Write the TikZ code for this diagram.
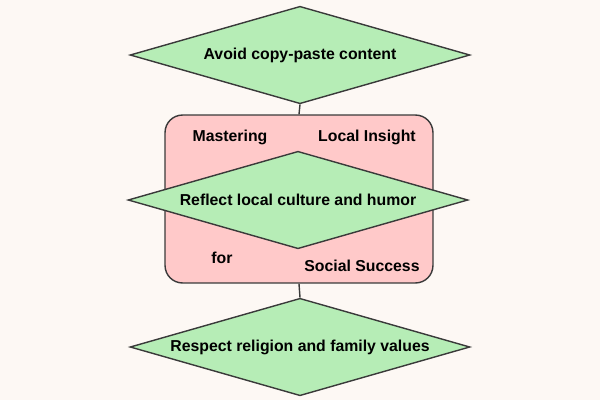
\documentclass[tikz,border=0pt]{standalone}
\usepackage{fontspec}
\setmainfont{Liberation Sans}
\usetikzlibrary{shapes.geometric}
\definecolor{bgcream}{HTML}{FDF8F4}
\definecolor{leafgreen}{HTML}{B6EDB6}
\definecolor{rosepink}{HTML}{FFC9C9}
\definecolor{edgegray}{HTML}{3A3A3A}
\begin{document}
\begin{tikzpicture}[
          x=0.02cm, y=-0.02cm,
          tip/.style={
            diamond,
            aspect=3.5,
            draw=edgegray,
            fill=leafgreen,
            thick,
            inner sep=0pt,
            minimum width=6.8cm,
            minimum height=1.95cm,
            font=\fontsize{9}{11}\selectfont\bfseries,
          },
          tag/.style={
            font=\fontsize{9}{11}\selectfont\bfseries,
          },
        ]
          \fill[bgcream] (0,0) rectangle (600,400);
          \useasboundingbox (0,0) rectangle (600,400);
          \node[draw=edgegray, thick, fill=rosepink, rounded corners=10pt,
                minimum width=5.36cm, minimum height=3.36cm] (frame) at (299,199) {};
          \node[tip] (avoid) at (300,55) {Avoid copy-paste content};
          \node[tip] (reflect) at (298,200) {Reflect local culture and humor};
          \node[tip] (respect) at (300,347) {Respect religion and family values};
          \node[tag] (master) at (230,137) {Mastering};
          \node[tag] (insight) at (367,137) {Local Insight};
          \node[tag] (for) at (222,258) {for};
          \node[tag] (success) at (362,266) {Social Success};
          \draw[edgegray, thick]
              (avoid.south) edge (frame.north)
              (frame.south) edge (respect.north);
        \end{tikzpicture}
\end{document}
